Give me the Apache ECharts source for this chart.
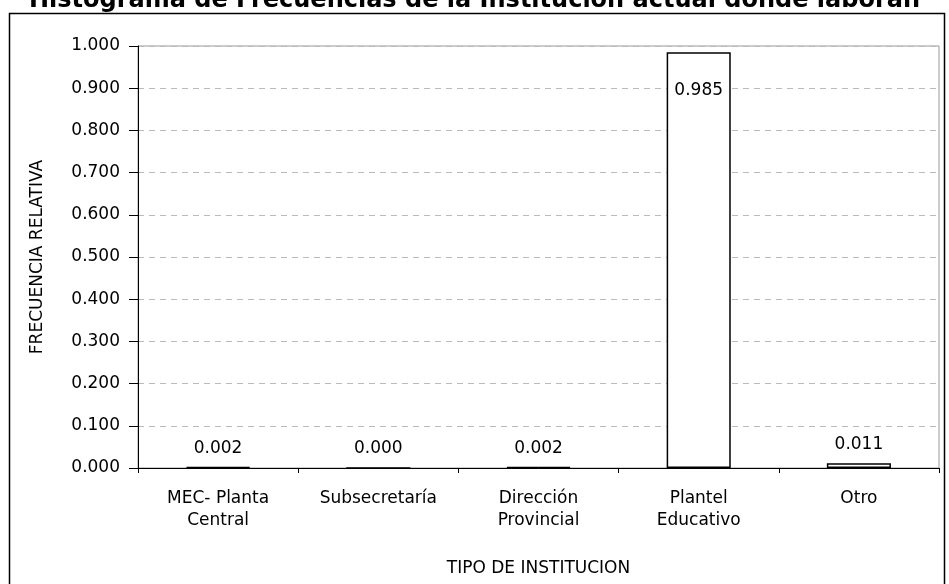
<!DOCTYPE html>
<html lang="es">
<head>
<meta charset="utf-8">
<title>Histograma de Frecuencias</title>
<style>
    html, body { margin: 0; padding: 0; background: #fff; }
    #chart { width: 949px; height: 584px; }
</style>
</head>
<body>
<div id="chart"></div>
<script src="https://cdn.jsdelivr.net/npm/echarts@6/dist/echarts.min.js"></script>
<script>
    // datos
    let categorias = ['MEC- Planta\nCentral', 'Subsecretaría', 'Dirección\nProvincial', 'Plantel\nEducativo', 'Otro'];
    let frecuencias = [0.002, 0.000, 0.002, 0.985, 0.011];
    let yTicks = [0, 0.1, 0.2, 0.3, 0.4, 0.5, 0.6, 0.7, 0.8, 0.9, 1.0];

    let font = 'DejaVu Sans, Verdana, sans-serif';
    let fs = 17;
    let chart = echarts.init(document.getElementById('chart'));

    let datos = frecuencias.map(function (v) {
        let d = { value: v };
        // la barra alta lleva la etiqueta por dentro
        if (v > 0.5) {
            d.label = { position: 'insideTop', distance: 30 };
        }
        return d;
    });

    let option = {
        animation: false,
        backgroundColor: '#fff',
        title: {
            text: 'Histograma de Frecuencias de la Institución actual donde laboran',
            left: 'center',
            top: -16,
            textStyle: { fontFamily: font, fontSize: 24, fontWeight: 'bold', color: '#000' }
        },
        graphic: [{
            type: 'rect',
            shape: { x: 9.5, y: 13.5, width: 935, height: 600 },
            style: { fill: 'none', stroke: '#000', lineWidth: 1.5 },
            silent: true
        }],
        grid: {
            left: 138, right: 10, top: 46, bottom: 116,
            show: true, borderColor: '#999', borderWidth: 1
        },
        xAxis: {
            type: 'category',
            data: categorias,
            name: 'TIPO DE INSTITUCION',
            nameLocation: 'middle',
            nameGap: 92,
            nameTextStyle: { fontFamily: font, fontSize: fs, color: '#000' },
            axisLine: { lineStyle: { color: '#000', width: 1 } },
            axisTick: { show: true, alignWithLabel: false, length: 5, lineStyle: { color: '#000' } },
            axisLabel: { fontFamily: font, fontSize: fs, color: '#000', margin: 20, lineHeight: 22, interval: 0 }
        },
        yAxis: {
            type: 'value',
            min: 0, max: 1, interval: 0.1,
            name: 'FRECUENCIA RELATIVA',
            nameLocation: 'middle',
            nameGap: 92,
            nameTextStyle: { fontFamily: font, fontSize: fs, color: '#000' },
            axisLine: { show: true, lineStyle: { color: '#000', width: 1 } },
            axisTick: { show: true, length: 9, lineStyle: { color: '#000' } },
            axisLabel: {
                fontFamily: font, fontSize: fs, color: '#000', margin: 18,
                formatter: function (v) { return v.toFixed(3); }
            },
            splitLine: { show: true, lineStyle: { color: '#bbb', type: [6, 5] } }
        },
        series: [{
            type: 'bar',
            data: datos,
            barWidth: '40%',
            itemStyle: { color: '#fff', borderColor: '#000', borderWidth: 1.5 },
            label: {
                show: true,
                position: 'top',
                distance: 10,
                fontFamily: font, fontSize: fs, color: '#000',
                formatter: function (p) { return p.value.toFixed(3); }
            }
        }]
    };

    chart.setOption(option);
</script>
</body>
</html>
